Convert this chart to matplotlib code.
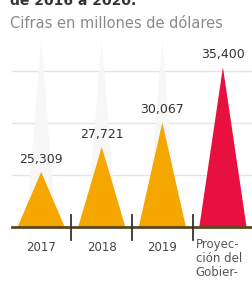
import numpy as np
import matplotlib
matplotlib.use("Agg")
import matplotlib.pyplot as plt

# data
categories = ["2017", "2018", "2019", "Proyec-\nción del\nGobier-"]
values = [25309, 27721, 30067, 35400]
value_labels = ["25,309", "27,721", "30,067", "35,400"]
colors = ["#F5A700", "#F5A700", "#F5A700", "#E8103F"]

plt.rcParams['font.family'] = ['Liberation Sans Narrow', 'DejaVu Sans']

fig = plt.figure(figsize=(2.52, 2.90), dpi=100)
ax = fig.add_axes([0.048, 0.217, 0.952, 0.662])

ymin, ymax = 20000, 38500
half = 0.39
x = np.arange(len(values))

# faint ghost triangles behind each bar
for i in range(3):
    ax.fill([x[i] - 0.25, x[i], x[i] + 0.25], [ymin, ymax - 400, ymin],
            color="#f7f7f7", zorder=1, lw=0)

# gridlines
for gy in [25000, 30000, 35000]:
    ax.axhline(gy, color="#e4e4e4", lw=1, zorder=0.5)

# triangles
for i, v in enumerate(values):
    ax.fill([x[i] - half, x[i], x[i] + half], [ymin, v, ymin],
            color=colors[i], zorder=2, lw=0)
    ax.text(x[i], v + 600, value_labels[i], ha="center", va="bottom",
            fontsize=9, color="#333333", zorder=3)

ax.axhline(ymin, color="#5a4720", lw=2, zorder=4, clip_on=False)

ax.set_xlim(-0.48, 3.48)
ax.set_ylim(ymin, ymax)
ax.axis("off")

# separator ticks
for b in [0.5, 1.5, 2.5]:
    ax.plot([b, b], [ymin + 1200, ymin - 1200], color="#333333", lw=1.3,
            clip_on=False, zorder=5)

for i in range(3):
    ax.text(x[i], ymin - 1300, categories[i], ha="center", va="top",
            fontsize=8.5, color="#444444")
ax.text(2.55, ymin - 1100, categories[3], ha="left", va="top",
        fontsize=8.5, color="#555555", linespacing=1.1)

fig.text(0.04, 1 - 5 / 290, "de 2016 a 2020.", fontsize=10, fontweight="bold",
         color="#333333", va="baseline", ha="left")
fig.text(0.04, 1 - 23 / 290, "Cifras en millones de dólares", fontsize=10.5,
         color="#8a8a8a", va="center", ha="left")

fig.savefig("out.png", dpi=100)
